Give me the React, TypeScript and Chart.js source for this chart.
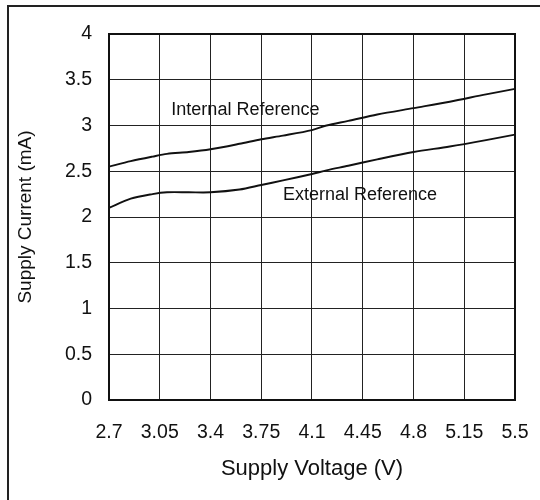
import React, { useEffect, useRef } from "react";
import { Chart, registerables } from "chart.js";

Chart.register(...registerables);

// ---- data ----
const voltages = [2.7, 2.85, 3.0, 3.1, 3.25, 3.4, 3.6, 3.75, 3.9, 4.1, 4.2, 4.35, 4.55, 4.8, 5.05, 5.3, 5.5];
const internalRef = [2.55, 2.61, 2.66, 2.69, 2.71, 2.74, 2.8, 2.85, 2.89, 2.95, 3.0, 3.05, 3.12, 3.19, 3.26, 3.34, 3.4];
const externalRef = [2.1, 2.2, 2.25, 2.27, 2.27, 2.27, 2.3, 2.35, 2.4, 2.47, 2.51, 2.56, 2.63, 2.71, 2.77, 2.84, 2.9];
const seriesNames = ["Internal Reference", "External Reference"];
const xTickValues = [2.7, 3.05, 3.4, 3.75, 4.1, 4.45, 4.8, 5.15, 5.5];
const xTickLabels = ["2.7", "3.05", "3.4", "3.75", "4.1", "4.45", "4.8", "5.15", "5.5"];
const yTickValues = [0, 0.5, 1, 1.5, 2, 2.5, 3, 3.5, 4];
const yTickLabels = ["0", "0.5", "1", "1.5", "2", "2.5", "3", "3.5", "4"];
// label anchor (voltage, current) for each series name
const labelX = [3.13, 3.9];
const labelY = [3.17, 2.24];

const FONT = "'Liberation Sans', Arial, Helvetica, sans-serif";

const framePlugin = {
  id: "framePlugin",
  beforeDraw(chart: any) {
    const ctx = chart.ctx;
    ctx.save();
    ctx.fillStyle = "#ffffff";
    ctx.fillRect(0, 0, chart.width, chart.height);
    ctx.strokeStyle = "#222222";
    ctx.lineWidth = 2;
    ctx.strokeRect(8, 6, 700, 700);
    ctx.restore();
  },
  afterDraw(chart: any) {
    const ctx = chart.ctx;
    const a = chart.chartArea;
    const xs = chart.scales.x;
    const ys = chart.scales.y;
    ctx.save();
    ctx.strokeStyle = "#111111";
    ctx.lineWidth = 2;
    ctx.strokeRect(a.left, a.top, a.right - a.left, a.bottom - a.top);
    ctx.fillStyle = "#111111";
    ctx.font = "18px " + FONT;
    ctx.textAlign = "left";
    ctx.textBaseline = "middle";
    seriesNames.forEach((name, i) => {
      ctx.fillText(name, xs.getPixelForValue(labelX[i]), ys.getPixelForValue(labelY[i]));
    });
    ctx.restore();
  },
};

export default function App() {
  const ref = useRef<HTMLCanvasElement | null>(null);
  useEffect(() => {
    if (!ref.current) return;
    const lineStyle = {
      borderColor: "#111111",
      borderWidth: 1.9,
      pointRadius: 0,
      fill: false,
      tension: 0.3,
    };
    const chart = new Chart(ref.current, {
      type: "line",
      data: {
        datasets: [
          { label: seriesNames[0], data: voltages.map((v, i) => ({ x: v, y: internalRef[i] })), ...lineStyle },
          { label: seriesNames[1], data: voltages.map((v, i) => ({ x: v, y: externalRef[i] })), ...lineStyle },
        ],
      },
      options: {
        responsive: false,
        animation: false,
        layout: { padding: { left: 0, top: 34, right: 25, bottom: 0 } },
        plugins: { legend: { display: false }, tooltip: { enabled: false } },
        scales: {
          x: {
            type: "linear",
            min: 2.7,
            max: 5.5,
            afterBuildTicks: (s: any) => {
              s.ticks = xTickValues.map((v) => ({ value: v }));
            },
            afterFit: (s: any) => {
              s.height = 100;
              s.paddingLeft = 0;
              s.paddingRight = 0;
            },
            grid: { color: "#222222", lineWidth: 1, drawTicks: false },
            border: { display: false },
            ticks: {
              padding: 21,
              color: "#111111",
              font: { size: 19.5, family: FONT },
              maxRotation: 0,
              autoSkip: false,
              callback: (_v: any, i: number) => xTickLabels[i],
            },
            title: {
              display: true,
              text: "Supply Voltage (V)",
              color: "#111111",
              font: { size: 22, family: FONT },
              padding: { top: 0, bottom: 18 },
            },
          },
          y: {
            type: "linear",
            min: 0,
            max: 4,
            afterBuildTicks: (s: any) => {
              s.ticks = yTickValues.map((v) => ({ value: v }));
            },
            afterFit: (s: any) => {
              s.width = 109;
              s.paddingTop = 0;
              s.paddingBottom = 0;
            },
            grid: { color: "#222222", lineWidth: 1, drawTicks: false },
            border: { display: false },
            ticks: {
              padding: 17,
              color: "#111111",
              font: { size: 19.5, family: FONT },
              callback: (_v: any, i: number) => yTickLabels[i],
            },
            title: {
              display: true,
              text: "Supply Current (mA)",
              color: "#111111",
              font: { size: 19, family: FONT },
              padding: { top: 14, bottom: 0 },
            },
          },
        },
      },
      plugins: [framePlugin],
    } as any);
    return () => chart.destroy();
  }, []);
  return (
    <div style={{ position: "absolute", left: 0, top: 0, width: 540, height: 500, background: "#fff" }}>
      <canvas ref={ref} width={540} height={500} style={{ display: "block", width: 540, height: 500 }} />
    </div>
  );
}
